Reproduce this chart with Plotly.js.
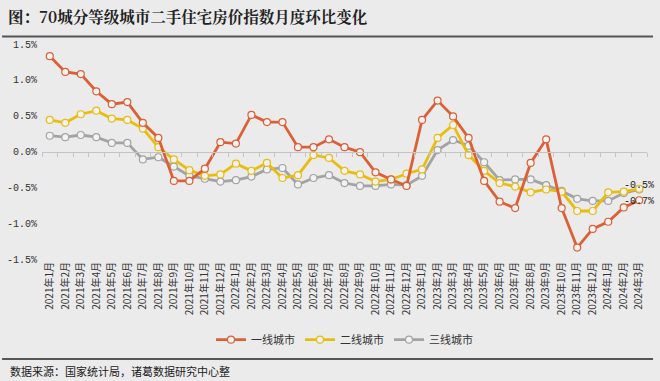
<!DOCTYPE html>
<html>
<head>
<meta charset="utf-8">
<script src="https://cdn.plot.ly/plotly-3.0.1.min.js"></script>
<style>
html,body{margin:0;padding:0;background:#ebebeb;}
#chart{width:660px;height:381px;}
</style>
</head>
<body>
<div id="chart"></div>
<script>
const months = ["2021年1月","2021年2月","2021年3月","2021年4月","2021年5月","2021年6月","2021年7月","2021年8月","2021年9月","2021年10月","2021年11月","2021年12月",
"2022年1月","2022年2月","2022年3月","2022年4月","2022年5月","2022年6月","2022年7月","2022年8月","2022年9月","2022年10月","2022年11月","2022年12月",
"2023年1月","2023年2月","2023年3月","2023年4月","2023年5月","2023年6月","2023年7月","2023年8月","2023年9月","2023年10月","2023年11月","2023年12月",
"2024年1月","2024年2月","2024年3月"];
const tier1 = [1.33,1.11,1.08,0.84,0.66,0.69,0.40,0.19,-0.41,-0.41,-0.24,0.13,
0.11,0.51,0.41,0.41,0.06,0.06,0.17,0.06,-0.01,-0.29,-0.39,-0.48,
0.44,0.71,0.49,0.19,-0.41,-0.70,-0.79,-0.16,0.17,-0.79,-1.34,-1.08,
-0.98,-0.78,-0.68];
const tier2 = [0.44,0.40,0.52,0.57,0.46,0.44,0.32,0.06,-0.11,-0.26,-0.34,-0.32,
-0.17,-0.27,-0.16,-0.37,-0.33,-0.05,-0.09,-0.27,-0.32,-0.42,-0.39,-0.31,
-0.25,0.19,0.37,-0.05,-0.27,-0.44,-0.49,-0.57,-0.53,-0.56,-0.83,-0.83,
-0.57,-0.56,-0.52];
const tier3 = [0.22,0.20,0.23,0.20,0.12,0.12,-0.11,-0.08,-0.21,-0.34,-0.38,-0.42,
-0.40,-0.35,-0.25,-0.23,-0.46,-0.37,-0.33,-0.44,-0.48,-0.48,-0.46,-0.47,
-0.34,0.02,0.16,0.08,-0.15,-0.40,-0.39,-0.39,-0.47,-0.55,-0.66,-0.69,
-0.69,-0.58,-0.53];
const seriesNames = ["一线城市","二线城市","三线城市"];
const colors = ["#dc6036","#e8bd10","#a3a3a3"];
const endLabels = ["-0.7%","-0.5%"];

const allSeries = [tier1, tier2, tier3];
const traces = allSeries.map((ys, i) => ({
  type: "scatter",
  mode: "lines+markers",
  name: seriesNames[i],
  x: months,
  y: ys,
  line: {color: colors[i], width: 2.8},
  marker: {symbol: "circle", size: 7, color: "#f2f2f2", line: {color: colors[i], width: 1.2}},
  hoverinfo: "x+y"
}));
// order of drawing: grey bottom, yellow, red top
const ordered = [traces[2], traces[1], traces[0]];
ordered[0].legendrank = 3; ordered[1].legendrank = 2; ordered[2].legendrank = 1;

const last = months.length - 1;
const layout = {
  width: 660, height: 381,
  paper_bgcolor: "#ebebeb",
  plot_bgcolor: "#ebebeb",
  margin: {l: 41.5, r: 12.5, t: 44, b: 122},
  font: {family: "Noto Sans CJK SC, sans-serif", color: "#333"},
  showlegend: true,
  legend: {orientation: "h", x: 0.5, xanchor: "center", y: -0.375, yanchor: "middle",
    font: {size: 11, color: "#333", family: "Noto Sans CJK SC"}, itemwidth: 30, traceorder: "normal", bgcolor: "rgba(0,0,0,0)"},
  xaxis: {
    type: "category", categoryarray: months, categoryorder: "array",
    range: [-0.5, last + 0.5],
    tickangle: -90, tickfont: {size: 10, color: "#333", family: "Noto Sans CJK SC"},
    showgrid: false, zeroline: false, showline: false, ticks: "", fixedrange: true
  },
  xaxis2: {
    overlaying: "x", anchor: "free", position: 0.5, side: "bottom",
    type: "linear", range: [-0.5, last + 0.5], tickmode: "linear", tick0: -0.5, dtick: 1,
    ticks: "outside", ticklen: 4, tickcolor: "#c4c4c4", tickwidth: 1,
    showline: true, linecolor: "#c4c4c4", linewidth: 1,
    showticklabels: false, showgrid: false, zeroline: false
  },
  yaxis: {
    range: [-1.5, 1.5], tickvals: [-1.5,-1.0,-0.5,0,0.5,1.0,1.5],
    ticktext: ["-1.5%","-1.0%","-0.5%","0.0%","0.5%","1.0%","1.5%"],
    tickfont: {size: 10, color: "#333", family: "Liberation Mono, DejaVu Sans Mono, monospace"},
    showgrid: false, zeroline: false, showline: false, ticks: "", ticklabelstandoff: 4
  },
  title: {
    text: "<b>图：70城分等级城市二手住宅房价指数月度环比变化</b>",
    x: 0.012, xanchor: "left", y: 0.953, yanchor: "middle",
    font: {size: 15.5, color: "#222", family: "Noto Serif CJK SC, Noto Sans CJK SC, serif"}
  },
  shapes: [
    {type: "line", xref: "paper", yref: "paper", x0: -0.066, x1: 1.01, y0: 1.035, y1: 1.035, line: {color: "#555", width: 2}},
    {type: "line", xref: "paper", yref: "paper", x0: -0.066, x1: 1.01, y0: -0.465, y1: -0.465, line: {color: "#555", width: 2}}
  ],
  annotations: [
    {x: months[last], y: tier1[last], xref: "x", yref: "y", text: endLabels[0], showarrow: false,
      xanchor: "center", yanchor: "middle", yshift: -1, font: {size: 10, color: "#222", family: "Liberation Mono, DejaVu Sans Mono, monospace"}},
    {x: months[last], y: tier3[last], xref: "x", yref: "y", text: endLabels[1], showarrow: false,
      xanchor: "center", yanchor: "middle", yshift: 4, font: {size: 10, color: "#222", family: "Liberation Mono, DejaVu Sans Mono, monospace"}},
    {x: 0.0, y: -0.523, xref: "paper", yref: "paper", text: "数据来源：国家统计局，诸葛数据研究中心整", showarrow: false,
      xanchor: "left", yanchor: "middle", xshift: -34, font: {size: 11, color: "#222", family: "Noto Sans CJK SC"}}
  ]
};
// dummy invisible trace to activate xaxis2
const axisTrace = {type: "scatter", x: [-0.5], y: [0], xaxis: "x2", yaxis: "y", mode: "markers", marker: {opacity: 0}, showlegend: false, hoverinfo: "skip"};
Plotly.newPlot("chart", [axisTrace].concat(ordered), layout, {displayModeBar: false, staticPlot: true});
</script>
</body>
</html>
